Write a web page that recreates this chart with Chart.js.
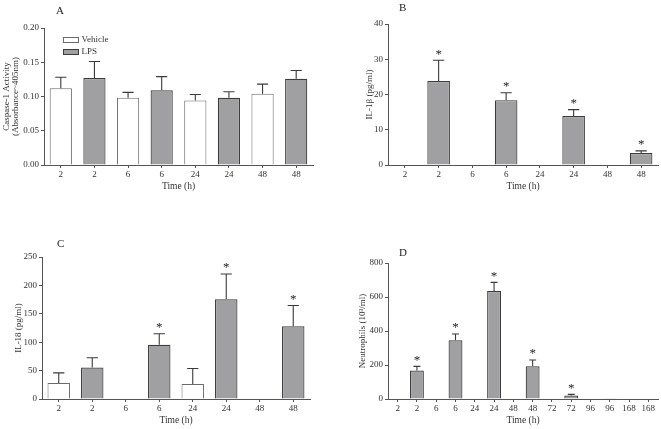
<!DOCTYPE html>
<html>
<head>
<meta charset="utf-8">
<script src="https://cdn.jsdelivr.net/npm/chart.js@4.4.0/dist/chart.umd.min.js"></script>
<style>
body { margin: 0; background: #fff; width: 661px; height: 429px; position: relative; overflow: hidden; font-family: "Liberation Serif", serif; }
.panel { position: absolute; }
.letter { position: absolute; font-size: 11px; color: #222; line-height: 12px; }
</style>
</head>
<body>
<div class="panel" style="left:0;top:0;width:330px;height:200px"><canvas id="chartA"></canvas></div>
<div class="panel" style="left:330px;top:0;width:331px;height:200px"><canvas id="chartB"></canvas></div>
<div class="panel" style="left:0;top:210px;width:330px;height:219px"><canvas id="chartC"></canvas></div>
<div class="panel" style="left:330px;top:210px;width:331px;height:219px"><canvas id="chartD"></canvas></div>
<div class="letter" style="left:56px;top:4px">A</div>
<div class="letter" style="left:399px;top:1px">B</div>
<div class="letter" style="left:57px;top:237px">C</div>
<div class="letter" style="left:399px;top:246px">D</div>
<script>
// donnees (moyenne + erreur superieure)
const timesABC = ['2', '6', '24', '48'];
const timesD = ['2', '6', '24', '48', '72', '96', '168'];

const caspVehicle = [0.112, 0.098, 0.094, 0.104];
const caspVehicleErr = [0.016, 0.008, 0.009, 0.014];
const caspLps = [0.127, 0.109, 0.098, 0.126];
const caspLpsErr = [0.024, 0.020, 0.009, 0.012];

const il1bVehicle = [0, 0, 0, 0];
const il1bLps = [23.8, 18.4, 13.9, 3.4];
const il1bLpsErr = [5.9, 2.1, 1.8, 0.6];
const il1bStars = [true, true, true, true];

const il18Vehicle = [28.3, 0, 26.5, 0];
const il18VehicleErr = [17.7, 0, 27.2, 0];
const il18Lps = [55.4, 95.5, 175.7, 128];
const il18LpsErr = [17.1, 19.5, 44.3, 36.5];
const il18Stars = [false, true, true, true];

const neutroVehicle = [0, 0, 0, 0, 0, 0, 0];
const neutroLps = [168, 345, 635, 192, 20, 4, 0];
const neutroLpsErr = [24, 37, 51, 37, 7, 0, 0];
const neutroStars = [true, true, true, true, true, false, false];

const FONT = '"Liberation Serif", serif';
const AXIS = '#555';
const GREY = '#a0a0a2';

// entrelace vehicle / LPS : 2,2,6,6,...
function pairLabels(times) { return times.flatMap(t => [t, t]); }
function asVehicle(arr) { return arr.flatMap(v => [v, null]); }
function asLps(arr) { return arr.flatMap(v => [null, v]); }

const errorBarPlugin = {
    id: 'errorBars',
    afterDatasetsDraw(chart) {
        const ctx = chart.ctx;
        const yScale = chart.scales.y;
        ctx.save();
        chart.data.datasets.forEach((ds, di) => {
            const meta = chart.getDatasetMeta(di);
            meta.data.forEach((bar, i) => {
                const v = ds.data[i];
                if (v === null || v === undefined) return;
                const e = ds.errors ? (ds.errors[i] || 0) : 0;
                const yTop = yScale.getPixelForValue(v + e);
                if (e > 0) {
                    const half = bar.width / 4;
                    ctx.strokeStyle = '#3a3a3a';
                    ctx.lineWidth = 1.1;
                    ctx.beginPath();
                    ctx.moveTo(bar.x, bar.y);
                    ctx.lineTo(bar.x, yTop);
                    ctx.moveTo(bar.x - half, yTop);
                    ctx.lineTo(bar.x + half, yTop);
                    ctx.stroke();
                }
                if (ds.stars && ds.stars[i]) {
                    ctx.fillStyle = '#222';
                    ctx.font = '13px ' + FONT;
                    ctx.textAlign = 'center';
                    ctx.textBaseline = 'middle';
                    ctx.fillText('*', bar.x, yTop - 6);
                }
            });
        });
        ctx.restore();
    }
};

const boxLegendPlugin = {
    id: 'boxLegend',
    afterDraw(chart, args, opts) {
        if (!opts.show) return;
        const ctx = chart.ctx;
        const { left, top } = chart.chartArea;
        ctx.save();
        chart.data.datasets.forEach((ds, i) => {
            const x = left + 19.5, y = top + 9.5 + i * 12;
            ctx.fillStyle = ds.backgroundColor;
            ctx.fillRect(x, y, 15, 5);
            ctx.strokeStyle = ds.borderColor;
            ctx.lineWidth = 1;
            ctx.strokeRect(x, y, 15, 5);
            ctx.fillStyle = '#333';
            ctx.font = '9px ' + FONT;
            ctx.textAlign = 'left';
            ctx.textBaseline = 'middle';
            ctx.fillText(ds.label, x + 18, y + 2.5);
        });
        ctx.restore();
    }
};

function makePanel(id, p) {
    const ctx = document.getElementById(id).getContext('2d');
    return new Chart(ctx, {
        type: 'bar',
        data: {
            labels: pairLabels(p.times),
            datasets: [{
                label: 'Vehicle',
                data: asVehicle(p.vehicle),
                errors: asVehicle(p.vehicleErr || []),
                backgroundColor: '#ffffff',
                borderColor: '#6a6a6a',
                borderWidth: 1,
                grouped: false,
                barPercentage: p.barPct,
                categoryPercentage: 1
            }, {
                label: 'LPS',
                data: asLps(p.lps),
                errors: asLps(p.lpsErr),
                stars: asLps(p.stars || []),
                backgroundColor: GREY,
                borderColor: '#3c3c3c',
                borderWidth: 1.2,
                grouped: false,
                barPercentage: p.barPct,
                categoryPercentage: 1
            }]
        },
        options: {
            responsive: true,
            maintainAspectRatio: false,
            animation: false,
            layout: { padding: { top: p.padTop, right: p.padRight, left: 0, bottom: 0 } },
            plugins: {
                legend: { display: false },
                tooltip: { enabled: false },
                boxLegend: { show: !!p.legend }
            },
            scales: {
                x: {
                    grid: { display: true, offset: false, drawOnChartArea: false, tickLength: 3, color: AXIS },
                    border: { color: AXIS, width: 1 },
                    ticks: { color: '#333', font: { family: FONT, size: 9 }, padding: 1, autoSkip: false, maxRotation: 0 },
                    title: { display: true, text: 'Time (h)', color: '#333', font: { family: FONT, size: 9.5, lineHeight: 1 }, padding: { top: 0, bottom: p.xTitlePad } },
                    afterFit: s => { s.height = p.xHeight; }
                },
                y: {
                    min: 0,
                    max: p.yMax,
                    grid: { display: true, drawOnChartArea: false, tickLength: 3, color: AXIS },
                    border: { color: AXIS, width: 1 },
                    ticks: { stepSize: p.yStep, color: '#333', font: { family: FONT, size: 9 }, padding: 2,
                        callback: v => p.decimals ? v.toFixed(p.decimals) : v },
                    title: { display: true, text: p.yTitle, color: '#333', font: { family: FONT, size: 9, lineHeight: 0.95 }, padding: { top: p.yTitlePad, bottom: 0 } },
                    afterFit: s => { s.width = p.yWidth; }
                }
            }
        },
        plugins: [errorBarPlugin, boxLegendPlugin]
    });
}

makePanel('chartA', {
    times: timesABC, vehicle: caspVehicle, vehicleErr: caspVehicleErr, lps: caspLps, lpsErr: caspLpsErr,
    yMax: 0.20, yStep: 0.05, decimals: 2, yTitle: ['Caspase-1 Activity', '(Absorbance~405nm)'],
    yWidth: 44, yTitlePad: 2.5, padTop: 28, padRight: 17, xHeight: 35, xTitlePad: 8.5, barPct: 0.66, legend: true
});

makePanel('chartB', {
    times: timesABC, vehicle: il1bVehicle, lps: il1bLps, lpsErr: il1bLpsErr, stars: il1bStars,
    yMax: 40, yStep: 10, yTitle: 'IL-1\u03b2 (pg/ml)',
    yWidth: 58, yTitlePad: 35.5, padTop: 24, padRight: 3, xHeight: 35, xTitlePad: 8.5, barPct: 0.67
});

makePanel('chartC', {
    times: timesABC, vehicle: il18Vehicle, vehicleErr: il18VehicleErr, lps: il18Lps, lpsErr: il18LpsErr, stars: il18Stars,
    yMax: 250, yStep: 50, yTitle: 'IL-18 (pg/ml)',
    yWidth: 42, yTitlePad: 14.5, padTop: 47, padRight: 20, xHeight: 30, xTitlePad: 3.5, barPct: 0.67
});

makePanel('chartD', {
    times: timesD, vehicle: neutroVehicle, lps: neutroLps, lpsErr: neutroLpsErr, stars: neutroStars,
    yMax: 800, yStep: 200, yTitle: 'Neutrophils (10\u00b3/ml)',
    yWidth: 58, yTitlePad: 28.5, padTop: 53, padRight: 3, xHeight: 30, xTitlePad: 3.5, barPct: 0.72
});
</script>
</body>
</html>
